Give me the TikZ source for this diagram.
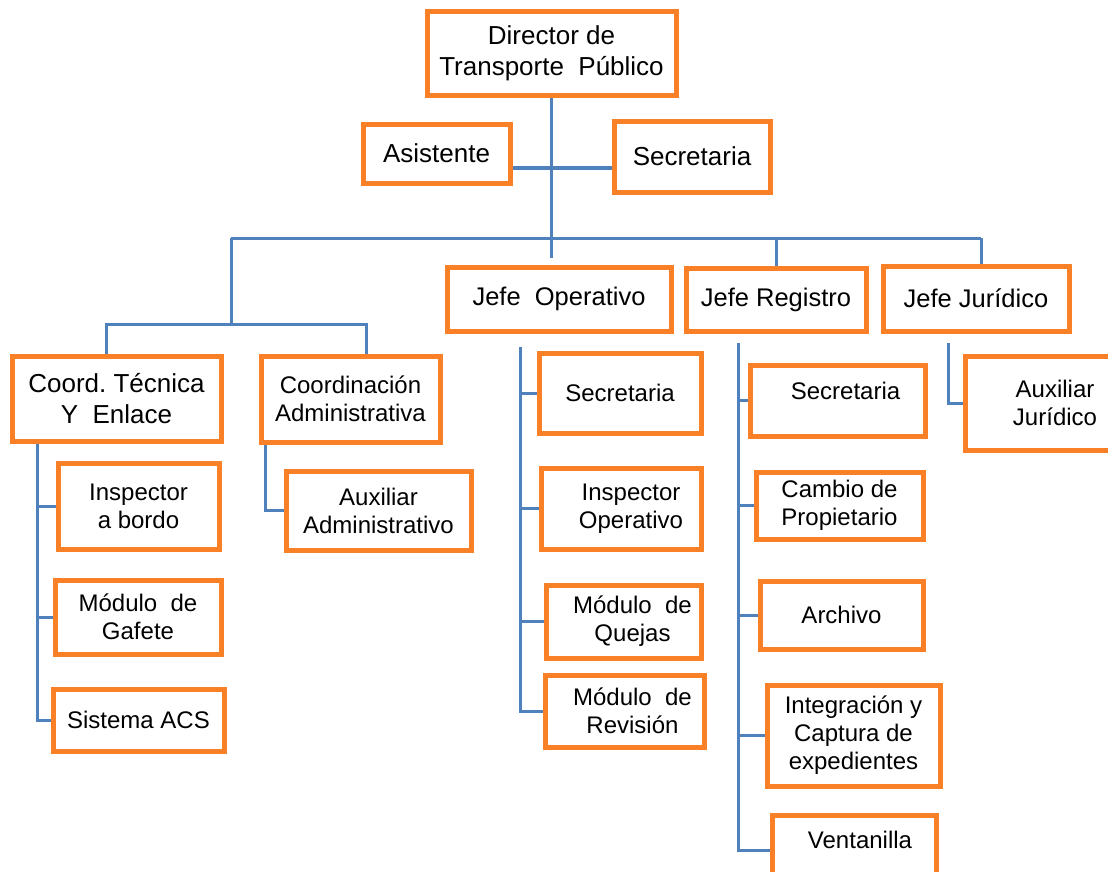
\documentclass[tikz,border=0pt]{standalone}
\usepackage{fontspec}
\setmainfont{Liberation Sans}
\usetikzlibrary{backgrounds}
\definecolor{boxorange}{RGB}{250,128,40}
\definecolor{lineblue}{RGB}{79,129,189}
\tikzset{every picture/.style={line width=0.75pt}}

\begin{document}
\begin{tikzpicture}[x=1pt,y=1pt,yscale=-1,xscale=1,
  box/.style={draw=boxorange, line width=5pt, fill=white, align=center, inner sep=2pt, font=\fontsize{24}{28}\selectfont},
  bigbox/.style={box, font=\fontsize{26}{31}\selectfont},
  jefebox/.style={box, font=\fontsize{25.5}{30}\selectfont},
  link/.style={draw=lineblue, line width=3pt}]
\useasboundingbox (0,0) rectangle (1108,871);

% Text Node
\node [bigbox, minimum width=249pt, minimum height=84pt] (dir) at (551.5,53) {Director de\\Transporte\ \ Público};
% Text Node
\node [bigbox, minimum width=147pt, minimum height=59pt] (asis) at (436.5,153.5) {Asistente};
% Text Node
\node [bigbox, minimum width=156pt, minimum height=71pt] (secr) at (692,156.5) {Secretaria};

% Text Node
\node [jefebox, minimum width=224pt, minimum height=64pt] (jop) at (559,299) {Jefe\ \ Operativo};
% Text Node
\node [jefebox, minimum width=180pt, minimum height=63pt] (jreg) at (776,299.5) {Jefe Registro};
% Text Node
\node [jefebox, minimum width=186pt, minimum height=65pt] (jjur) at (976,298.5) {Jefe Jurídico};

% Text Node
\node [bigbox, minimum width=209pt, minimum height=85pt] (ctec) at (116.5,398.5) {Coord.\ Técnica\\Y\ \ Enlace};
% Text Node
\node [box, minimum width=179pt, minimum height=86pt] (cadm) at (350.5,399) {Coordinación\\Administrativa};

% Text Node
\node [box, minimum width=161pt, minimum height=86pt] (insb) at (138.5,506) {Inspector\\a bordo};
% Text Node
\node [box, minimum width=166pt, minimum height=74pt] (gaf) at (138,617) {Módulo\ \ de\\Gafete};
% Text Node
\node [box, minimum width=171pt, minimum height=62pt] (acs) at (138.5,720) {Sistema ACS};
% Text Node
\node [box, minimum width=185pt, minimum height=79pt] (auxa) at (378.5,510.5) {Auxiliar\\Administrativo};

% Text Node
\node [box, minimum width=162pt, minimum height=80pt] (osec) at (620,393) {Secretaria};
% Text Node
\node [box, minimum width=160pt, minimum height=81pt] (oins) at (621,508.5) {\hspace*{20pt}Inspector\\\hspace*{20pt}Operativo};
% Text Node
\node [box, minimum width=155pt, minimum height=73pt] (oque) at (623.5,621.5) {\hspace*{18pt}Módulo\ \ de\\\hspace*{18pt}Quejas};
% Text Node
\node [box, minimum width=159pt, minimum height=72pt] (orev) at (624.5,711) {\hspace*{16pt}Módulo\ \ de\\\hspace*{16pt}Revisión};

% Text Node
\node [box, minimum width=175pt, minimum height=71pt, text depth=20pt] (rsec) at (837.5,400.5) {\hspace*{16pt}Secretaria};
% Text Node
\node [box, minimum width=167pt, minimum height=67pt] (rcam) at (839.5,505.5) {Cambio de\\Propietario};
% Text Node
\node [box, minimum width=163pt, minimum height=68pt] (rarc) at (841.5,615) {Archivo};
% Text Node
\node [box, minimum width=173pt, minimum height=101pt] (rint) at (853.5,735.5) {Integración y\\Captura de\\expedientes};
% Text Node
\node [box, minimum width=164pt, minimum height=70pt, text depth=20pt] (rven) at (854,850) {\hspace*{12pt}Ventanilla};

% Text Node
\node [box, minimum width=160pt, minimum height=94pt] (ajur) at (1045,403) {\hspace*{20pt}Auxiliar\\\hspace*{20pt}Jurídico};

\coordinate (mainend) at (551.5,258);
\coordinate (asy) at (0,168);
\coordinate (busL) at (231,238);
\coordinate (busR) at (981,238);
\coordinate (subbus) at (231,324);
\coordinate (ctecx) at (37,441);
\coordinate (cadmx) at (265,442);
\coordinate (jopx) at (520,347);
\coordinate (jregx) at (738,343);
\coordinate (jjurx) at (948,343);

\begin{scope}[on background layer]
%Straight Lines
\draw [link] (dir) -- (mainend);
%Straight Lines
\draw [link, line width=4.5pt] (asis.east |- asy) -- (secr.west |- asy);
%Straight Lines
\draw [link] (busL) -- (busR);
\draw [link] (busL) -- (subbus);
\draw [link] ([xshift=-10pt]ctec.north) |- (subbus) -| ([xshift=16pt]cadm.north);
\draw [link] (jreg.north |- busL) -- (jreg.north);
\draw [link] (busR) -- (busR |- jjur.north);
%Straight Lines
\draw [link] (ctecx) |- (acs.west);
\draw [link] (ctecx |- insb.west) -- (insb.west);
\draw [link] (ctecx |- gaf.west) -- (gaf.west);
%Straight Lines
\draw [link] (cadmx) |- (auxa.west);
%Straight Lines
\draw [link] (jopx) |- (orev.west);
\draw [link] (jopx |- osec.west) -- (osec.west);
\draw [link] (jopx |- oins.west) -- (oins.west);
\draw [link] (jopx |- oque.west) -- (oque.west);
%Straight Lines
\draw [link] (jregx) |- (rven.west);
\draw [link] (jregx |- rsec.west) -- (rsec.west);
\draw [link] (jregx |- rcam.west) -- (rcam.west);
\draw [link] (jregx |- rarc.west) -- (rarc.west);
\draw [link] (jregx |- rint.west) -- (rint.west);
%Straight Lines
\draw [link] (jjurx) |- (ajur.west);
\end{scope}

\end{tikzpicture}
\end{document}
